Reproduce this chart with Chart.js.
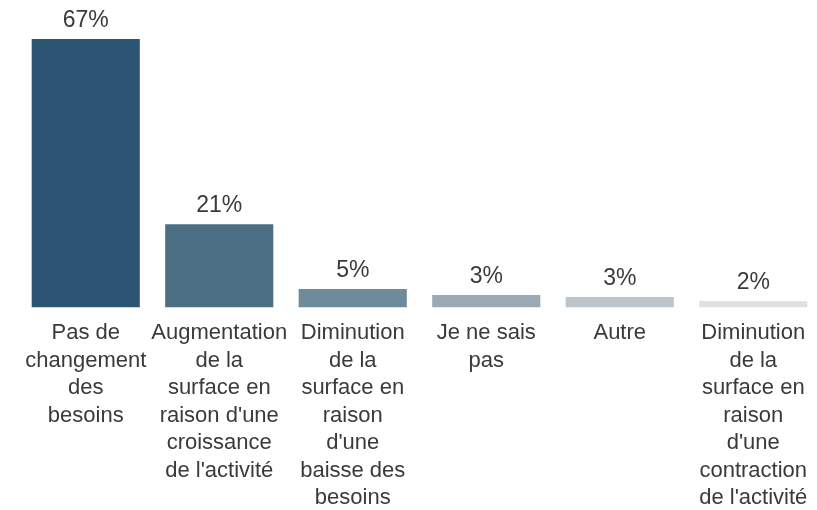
<!DOCTYPE html>
<html>
<head>
<meta charset="utf-8">
<script src="https://cdn.jsdelivr.net/npm/chart.js@4/dist/chart.umd.min.js"></script>
<style>
  html, body { margin: 0; padding: 0; background: #fff; overflow: hidden; }
  #wrap { position: relative; width: 820px; height: 524px; }
</style>
</head>
<body>
<div id="wrap"><canvas id="chart"></canvas></div>
<script>
// donnees
const categories = [
    ['Pas de', 'changement', 'des', 'besoins'],
    ['Augmentation', 'de la', 'surface en', "raison d'une", 'croissance', "de l'activité"],
    ['Diminution', 'de la', 'surface en', 'raison', "d'une", 'baisse des', 'besoins'],
    ['Je ne sais', 'pas'],
    ['Autre'],
    ['Diminution', 'de la', 'surface en', 'raison', "d'une", 'contraction', "de l'activité"]
];
const values = [67, 20.8, 4.6, 3.1, 2.6, 1.6];
const barColors = ['#2b5572', '#4d6f85', '#6f8a9b', '#9aa9b4', '#bcc5cc', '#e1e1e1'];

const textColor = '#3a3a3a';
const fontFamily = '"Liberation Sans", Arial, sans-serif';

// labels au-dessus des barres
const valueLabels = {
    id: 'valueLabels',
    afterDatasetsDraw(chart) {
        const ctx = chart.ctx;
        const meta = chart.getDatasetMeta(0);
        ctx.save();
        ctx.font = '23px ' + fontFamily;
        ctx.fillStyle = textColor;
        ctx.textAlign = 'center';
        ctx.textBaseline = 'middle';
        meta.data.forEach((bar, i) => {
            ctx.fillText(Math.round(values[i]) + '%', bar.x, bar.y - 18);
        });
        ctx.restore();
    }
};

const ctx = document.getElementById('chart').getContext('2d');
new Chart(ctx, {
    type: 'bar',
    data: {
        labels: categories,
        datasets: [{
            data: values,
            backgroundColor: barColors,
            barPercentage: 0.81,
            categoryPercentage: 1
        }]
    },
    options: {
        responsive: true,
        maintainAspectRatio: false,
        animation: false,
        layout: { padding: { left: 19, right: 0, top: 39, bottom: 0 } },
        plugins: {
            legend: { display: false },
            tooltip: { enabled: false }
        },
        scales: {
            x: {
                grid: { display: false, drawTicks: false },
                border: { display: false },
                ticks: {
                    color: textColor,
                    font: { family: fontFamily, size: 22, lineHeight: 1.25 },
                    padding: 12,
                    maxRotation: 0,
                    minRotation: 0,
                    autoSkip: false
                }
            },
            y: {
                display: false,
                min: 0,
                max: 67
            }
        }
    },
    plugins: [valueLabels]
});
</script>
</body>
</html>
